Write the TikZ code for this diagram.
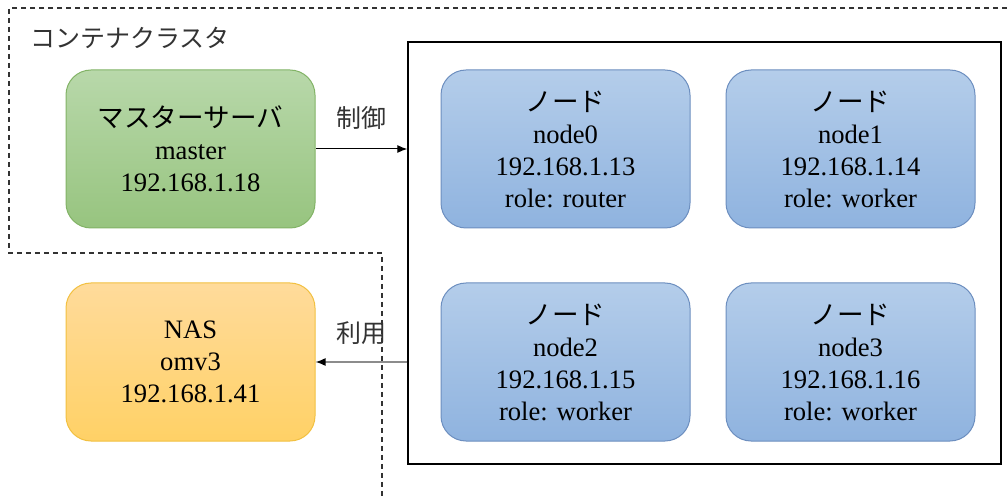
\documentclass[tikz,border=0pt]{standalone}
\usepackage{fontspec}
\setmainfont{Liberation Serif}
\newfontfamily\jp{Noto Sans CJK JP}
\usetikzlibrary{positioning,arrows.meta}
\definecolor{mastertop}{HTML}{B8D8AA}
\definecolor{masterbot}{HTML}{97C47F}
\definecolor{masterline}{HTML}{82B366}
\definecolor{nodetop}{HTML}{B4CDEA}
\definecolor{nodebot}{HTML}{8FB3DF}
\definecolor{nodeline}{HTML}{6C8EBF}
\definecolor{nastop}{HTML}{FFDB9B}
\definecolor{nasbot}{HTML}{FFD166}
\definecolor{nasline}{HTML}{F2C040}
\tikzset{
  box/.style={rounded corners=12.5pt, line width=0.5pt, minimum width=124.5pt, minimum height=79pt, align=center, font=\fontsize{13.3}{16}\selectfont},
  masterbox/.style={box, draw=masterline, top color=mastertop, bottom color=masterbot},
  nodebox/.style={box, draw=nodeline, top color=nodetop, bottom color=nodebot},
  nasbox/.style={box, draw=nasline, top color=nastop, bottom color=nasbot},
  lbl/.style={font=\jp\fontsize{12.5}{15}\selectfont, text=black!80}
}
\begin{document}
\begin{tikzpicture}[x=0.5pt, y=-0.5pt, >={Latex[length=5pt,width=4pt]}]
\useasboundingbox (0,0) rectangle (1007,497);
% container cluster boundary
\draw[line width=0.75pt, black!80, dash pattern=on 2.5pt off 2pt] (1007,8) -- (9,8) -- (9,253) -- (382,253) -- (382,497);
\node[lbl, anchor=west] (title) at (23,38) {コンテナクラスタ};
% nodes
\node[draw, line width=0.75pt, minimum width=296.5pt, minimum height=211pt] (group) at (704.5,253) {};
\node[masterbox] (master) at (190.5,149) {{\jp マスターサーバ}\\master\\192.168.1.18};
\node[nasbox] (nas) at (190.5,362) {NAS\\omv3\\192.168.1.41};
\node[nodebox] (node0) at (565.5,149) {{\jp ノード}\\node0\\192.168.1.13\\role: router};
\node[nodebox] (node1) at (850.5,149) {{\jp ノード}\\node1\\192.168.1.14\\role: worker};
\node[nodebox] (node2) at (565.5,362) {{\jp ノード}\\node2\\192.168.1.15\\role: worker};
\node[nodebox] (node3) at (850.5,362) {{\jp ノード}\\node3\\192.168.1.16\\role: worker};
% connectors
\draw[->, line width=0.5pt] (master.east) -- node[lbl, above=6pt] (ctl) {制御} (master.east -| group.west);
\draw[-{Latex[length=5pt,width=4pt,black]}, line width=0.75pt, black!45] (nas.east -| group.west) -- node[lbl, above=5pt] (use) {利用} (nas.east);
\end{tikzpicture}
\end{document}
